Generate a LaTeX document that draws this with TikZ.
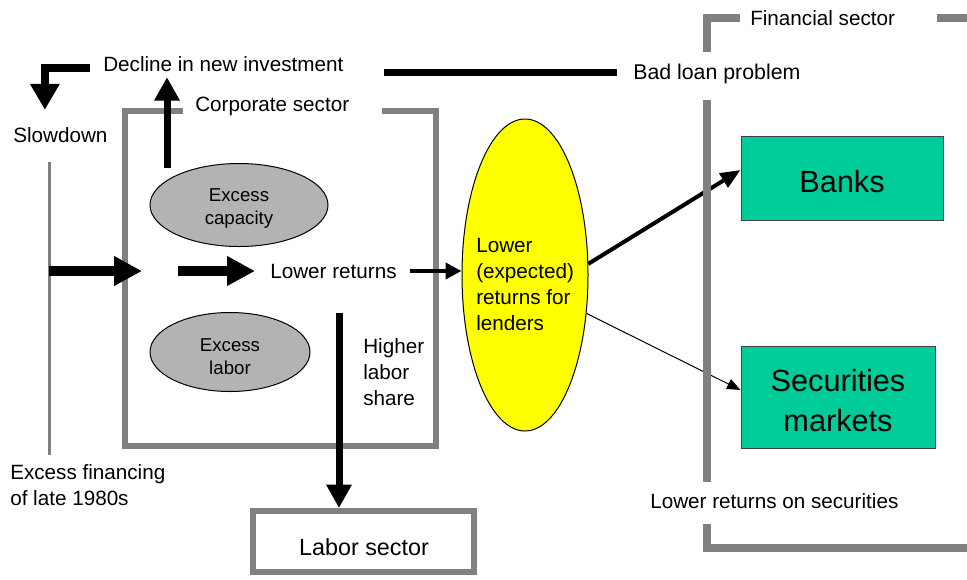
\documentclass[tikz,border=0pt]{standalone}
\usepackage{fontspec}
\setmainfont{Liberation Sans}
\usetikzlibrary{arrows.meta,calc,shapes.geometric}
\definecolor{framegray}{HTML}{808080}
\definecolor{blobgray}{HTML}{B3B3B3}
\definecolor{mktgreen}{HTML}{00CC99}
\definecolor{lendyellow}{HTML}{FFFF00}
\begin{document}
\begin{tikzpicture}[x=0.75pt,y=-0.75pt,
  lbl/.style={inner sep=0pt, font=\fontsize{15.5}{19.5}\selectfont, align=left},
  blob/.style={ellipse, draw=black, line width=0.75pt, fill=blobgray, inner sep=0pt},
  blobtext/.style={inner sep=0pt, font=\fontsize{14}{17.25}\selectfont, align=center},
  sectorbox/.style={rectangle, draw=black!75, line width=0.75pt, fill=mktgreen, inner sep=0pt},
  sectortext/.style={inner sep=0pt, font=\fontsize{23}{30}\selectfont, align=center},
  corpframe/.style={draw=framegray, line width=4.5pt},
  finframe/.style={draw=framegray, line width=6pt},
  bigarrow/.style={line width=7.5pt, -{Triangle[length=21pt,width=21pt]}},
  bentarrow/.style={line width=6pt, line join=miter, -{Triangle[length=19.5pt,width=21pt]}},
  vertarrow/.style={line width=5.25pt, -{Triangle[length=17.5pt,width=18pt]}},
  medarrow/.style={line width=3pt, -{Triangle[length=12pt,width=12pt]}},
  banksarrow/.style={line width=3pt, -{Triangle[length=15pt,width=12pt]}},
  thinarrow/.style={line width=0.75pt, -{Triangle[length=10pt,width=8pt]}}
]
\useasboundingbox (0,0) rectangle (967,579);

% corporate sector frame (open at the top for its title)
\draw[corpframe] (183,111) -- (125,111) -- (125,446) -- (436,446) -- (436,111) -- (382,111);

% text labels
\node[lbl, anchor=west] (decline) at (103,64) {Decline in new investment};
\node[lbl, anchor=west, font=\fontsize{16}{19.5}\selectfont] (badloan) at (633,74) {Bad loan problem};
\node[lbl, anchor=west] (corp) at (195,106) {Corporate sector};
\node[lbl, anchor=west] (slowdown) at (13,135) {Slowdown};
\node[lbl, anchor=west] (lowret) at (270,271) {Lower returns};
\node[lbl, anchor=west] (higher) at (363,372) {Higher\\labor\\share};
\node[lbl, anchor=west] (excfin) at (10,485) {Excess financing\\of late 1980s};
\node[lbl, anchor=west] (lowsec) at (650,501) {Lower returns on securities};
\node[lbl, anchor=west] (finsec) at (750,18) {Financial sector};

% corporate-sector conditions
\node[blob, minimum width=133.5pt, minimum height=62.25pt] (capacity) at (239,205) {};
\node[blobtext] (capacityText) at (239,209) {Excess\\capacity};
\node[blob, minimum width=120pt, minimum height=59.25pt] (laborx) at (230,352) {};
\node[blobtext] (laborxText) at (230,357) {Excess\\labor};

% lenders
\node[ellipse, draw=black, line width=0.75pt, fill=lendyellow, inner sep=0pt,
  minimum width=94.5pt, minimum height=234pt] (lenders) at (525,275) {};
\node[lbl, anchor=west] (lendtext) at (476,284) {Lower\\(expected)\\returns for\\lenders};

% financial institutions
\node[sectorbox, minimum width=151.5pt, minimum height=63pt] (banks) at (842,178) {};
\node[sectortext] (banksText) at (842,182) {Banks};
\node[sectorbox, minimum width=145.5pt, minimum height=76.5pt] (secmkt) at (838,397) {};
\node[sectortext] (secmktText) at (838,401) {Securities\\markets};

% labour sector
\node[draw=framegray, line width=4.5pt, inner sep=0pt, minimum width=165.75pt, minimum height=45.75pt]
  (labor) at (363.5,541.5) {};
\node[inner sep=0pt, font=\fontsize{17.5}{20}\selectfont] (laborText) at (364,547) {Labor sector};

% excess financing bar
\coordinate (srcTop) at (49,162);
\coordinate (srcBot) at (49,455);
\draw[draw=framegray, line width=2.25pt] (srcTop) -- (srcBot);

% flows into the corporate sector
\coordinate (feedA) at (49,271);
\coordinate (tipA) at (142,271);
\draw[bigarrow] (feedA) -- (tipA);
\coordinate (feedB) at (178,271);
\draw[bigarrow, shorten >=11.25pt] (feedB) -- (feedB -| lowret.west);

% excess capacity -> decline in investment -> slowdown
\coordinate (capTop) at (167,168);
\draw[vertarrow, shorten >=4pt] (capTop) -- (capTop |- decline.south);
\draw[bentarrow, shorten >=13pt] ($(decline.west)+(-13,4)$) -| ($(slowdown.north)+(-15.5,0)$);

% decline in investment -- bad loan problem
\draw[line width=5.25pt, shorten <=30pt, shorten >=12pt] ($(decline.east)+(0,8)$) -- ($(badloan.west)+(0,-2)$);

% lower returns -> labour sector, lenders
\coordinate (shareTop) at (339,313);
\draw[vertarrow] (shareTop) -- (shareTop |- labor.north);
\draw[medarrow, shorten <=10pt] (lowret.east) -- (lowret.east -| lenders.west);

% lenders -> banks, securities markets
\draw[banksarrow] (lenders.10) -- ([yshift=6pt]banks.west);
\draw[thinarrow] (lenders.-32) -- ([yshift=5.25pt]secmkt.west);

% financial sector frame (drawn over the flows)
\draw[finframe] (707,52) -- (707,18) -- (740,18);
\draw[finframe] (937,18) -- (967,18);
\draw[finframe] (707,100) -- (707,482);
\draw[finframe] (707,524) -- (707,548) -- (967,548);
\end{tikzpicture}
\end{document}
